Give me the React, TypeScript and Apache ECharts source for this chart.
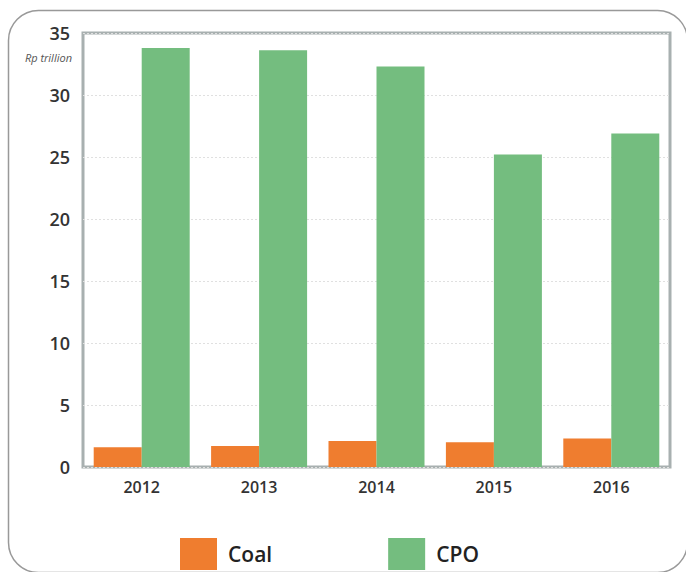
import React, { useEffect, useRef } from "react";
import * as echarts from "echarts";

const years = ["2012", "2013", "2014", "2015", "2016"];
const coal = [1.6, 1.7, 2.1, 2.0, 2.3];
const cpo = [33.8, 33.6, 32.3, 25.2, 26.9];
const yTicks = { min: 0, max: 35, interval: 5 };

export default function App() {
  const ref = useRef<HTMLDivElement>(null);
  useEffect(() => {
    if (!ref.current) return;
    const chart = echarts.init(ref.current, null, { renderer: "svg" });
    const font = "Open Sans";
    chart.setOption({
      animation: false,
      backgroundColor: "#ffffff",
      grid: {
        left: 83,
        right: 16,
        top: 33,
        bottom: 105,
        show: true,
        borderColor: "#a8b0b0",
        borderWidth: 3,
        backgroundColor: "transparent",
      },
      xAxis: {
        type: "category",
        data: years,
        axisLine: { show: false },
        axisTick: { show: false },
        axisLabel: { color: "#333", fontSize: 16, fontWeight: 600, fontFamily: font, margin: 12 },
      },
      yAxis: {
        type: "value",
        min: yTicks.min,
        max: yTicks.max,
        interval: yTicks.interval,
        axisLine: { show: false },
        axisTick: { show: false },
        axisLabel: { color: "#333", fontSize: 18, fontWeight: 600, fontFamily: font, margin: 13 },
        splitLine: { lineStyle: { color: "#e0e0e0", type: [2, 2], width: 1 } },
      },
      legend: {
        left: 180,
        top: 538,
        padding: 0,
        itemWidth: 37,
        itemHeight: 32,
        itemGap: 116,
        icon: "rect",
        textStyle: { fontSize: 21, fontWeight: 600, color: "#222", fontFamily: font, padding: [0, 0, 0, 6] },
        data: ["Coal", "CPO"],
      },
      series: [
        {
          name: "Coal",
          type: "bar",
          data: coal,
          barWidth: 48,
          barGap: "0%",
          itemStyle: { color: "#ef7d2f" },
        },
        {
          name: "CPO",
          type: "bar",
          data: cpo,
          barWidth: 48,
          barGap: "0%",
          itemStyle: { color: "#74bd7f" },
        },
      ],
      graphic: [
        {
          type: "rect",
          shape: { x: 8.5, y: 10.5, width: 679, height: 562, r: 30 },
          style: { fill: "none", stroke: "#999", lineWidth: 1.5 },
          silent: true,
        },
        {
          type: "text",
          x: 72,
          y: 52,
          style: {
            text: "Rp trillion",
            fontSize: 11,
            fontStyle: "italic",
            fontFamily: font,
            fill: "#555",
            textAlign: "right",
          },
        },
      ],
    });
    return () => chart.dispose();
  }, []);
  return <div ref={ref} style={{ width: 686, height: 572, position: "absolute", left: 0, top: 0 }} />;
}
